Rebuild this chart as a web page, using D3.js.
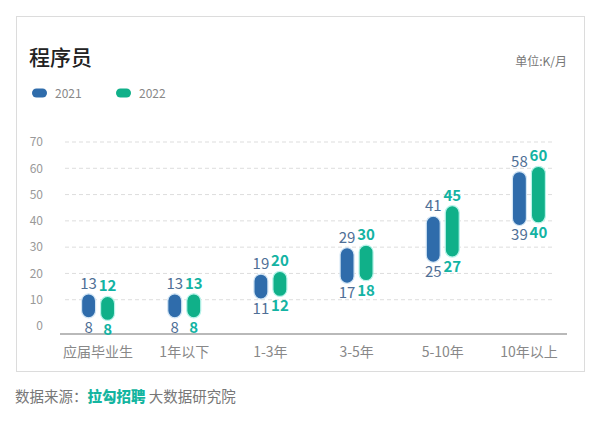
<!DOCTYPE html>
<html>
<head>
<meta charset="utf-8">
<script src="https://cdn.jsdelivr.net/npm/d3@7"></script>
<style>
  body { margin: 0; background: #fff; }
  text { font-family: "Noto Sans CJK SC", "Noto Sans", sans-serif; }
</style>
</head>
<body>
<svg id="chart"></svg>
<script>
// data (K/月)
const categories = ["应届毕业生", "1年以下", "1-3年", "3-5年", "5-10年", "10年以上"];
const series = ["2021", "2022"];
const low2021 = [8, 8, 11, 17, 25, 39];
const high2021 = [13, 13, 19, 29, 41, 58];
const low2022 = [8, 8, 12, 18, 27, 40];
const high2022 = [12, 13, 20, 30, 45, 60];
const yTicks = [0, 10, 20, 30, 40, 50, 60, 70];

const colors = { "2021": "#2f6cab", "2022": "#10b089" };
const labelColors = { "2021": "#4f6f96", "2022": "#13b3a3" };
const minPill = 24; // short ranges still get a readable pill

const W = 595, H = 427;
const svg = d3.select("#chart").attr("width", W).attr("height", H);

// card
svg.append("rect")
  .attr("x", 16.5).attr("y", 16.5)
  .attr("width", 568).attr("height", 355)
  .attr("fill", "#fff").attr("stroke", "#dcdcdc");

svg.append("text")
  .attr("x", 29).attr("y", 65)
  .attr("font-size", 21).attr("font-weight", 500)
  .attr("fill", "#222")
  .text("程序员");

svg.append("text")
  .attr("x", 567).attr("y", 66)
  .attr("text-anchor", "end")
  .attr("font-size", 12).attr("fill", "#777")
  .text("单位:K/月");

// legend
const legend = svg.append("g").attr("transform", "translate(32, 93)");
series.forEach((s, i) => {
  const g = legend.append("g").attr("transform", `translate(${i * 84}, 0)`);
  g.append("rect")
    .attr("x", 0).attr("y", -4.5)
    .attr("width", 15).attr("height", 9).attr("rx", 4.5)
    .attr("fill", colors[s]);
  g.append("text")
    .attr("x", 23).attr("y", 4.5)
    .attr("font-size", 12).attr("fill", "#888")
    .text(s);
});

const x = d3.scaleBand().domain(categories).range([55, 572]);
const x1 = d3.scaleBand().domain(series).range([-16.5, 16.5]).paddingInner(0.263);
const y = d3.scaleLinear().domain([0, 70]).range([326, 142]);

// grid
svg.append("g")
  .selectAll("line")
  .data(yTicks.filter(d => d > 0))
  .join("line")
  .attr("x1", 65).attr("x2", 555)
  .attr("y1", d => y(d)).attr("y2", d => y(d))
  .attr("stroke", "#dddddd")
  .attr("stroke-dasharray", "4,3");

// y labels
const yAxis = svg.append("g")
  .attr("transform", "translate(43, 0)")
  .call(d3.axisLeft(y).tickValues(yTicks).tickSize(0).tickPadding(0));
yAxis.select(".domain").remove();
yAxis.selectAll("text")
  .attr("font-size", 12).attr("fill", "#999")
  .style("font-family", '"Noto Sans CJK SC", sans-serif');

// x axis
const xAxis = svg.append("g")
  .attr("transform", "translate(0, 334)")
  .call(d3.axisBottom(x).tickSize(0).tickPadding(13));
xAxis.select(".domain")
  .attr("d", "M60,0H567")
  .attr("stroke", "#b9b9b9").attr("stroke-width", 2);
xAxis.selectAll("text")
  .attr("font-size", 14).attr("fill", "#888")
  .style("font-family", '"Noto Sans CJK SC", sans-serif');

// bars
const rows = [];
categories.forEach((c, i) => {
  rows.push({ cat: c, s: "2021", lo: low2021[i], hi: high2021[i] });
  rows.push({ cat: c, s: "2022", lo: low2022[i], hi: high2022[i] });
});

const bw = x1.bandwidth();
// pill ends; short pills get stretched and nudged down a bit
const isShort = d => y(d.lo) - y(d.hi) + 4 < minPill;
const pillTop = d => y(d.hi) - 2 + (isShort(d) ? 4 : 0);
const pillBottom = d => isShort(d) ? pillTop(d) + minPill : y(d.lo) + 2;

const groups = svg.append("g").selectAll("g")
  .data(rows)
  .join("g")
  .attr("transform", d => `translate(${x(d.cat) + x.bandwidth() / 2 + x1(d.s)}, 0)`);

groups.append("rect")
  .attr("x", 0)
  .attr("y", pillTop)
  .attr("width", bw)
  .attr("height", d => pillBottom(d) - pillTop(d))
  .attr("rx", bw / 2)
  .attr("fill", d => colors[d.s])
  .attr("stroke", d => d.s === "2022" ? "#b8f3ea" : "#d3e6f5")
  .attr("stroke-width", 1.2);

groups.append("text")
  .attr("x", bw / 2)
  .attr("y", d => pillTop(d) - 5)
  .attr("text-anchor", "middle")
  .attr("font-size", 15)
  .attr("font-weight", d => d.s === "2022" ? 600 : 400)
  .attr("fill", d => labelColors[d.s])
  .text(d => d.hi);

groups.append("text")
  .attr("x", bw / 2)
  .attr("y", d => pillBottom(d) + 15)
  .attr("text-anchor", "middle")
  .attr("font-size", 15)
  .attr("font-weight", d => d.s === "2022" ? 600 : 400)
  .attr("fill", d => labelColors[d.s])
  .text(d => d.lo);

// footer
const foot = svg.append("text")
  .attr("x", 15).attr("y", 402)
  .attr("font-size", 14.5).attr("fill", "#777");
foot.append("tspan").text("数据来源：");
foot.append("tspan").attr("fill", "#14b5a0").attr("font-weight", 800).text("拉勾招聘");
foot.append("tspan").text(" 大数据研究院");
</script>
</body>
</html>
